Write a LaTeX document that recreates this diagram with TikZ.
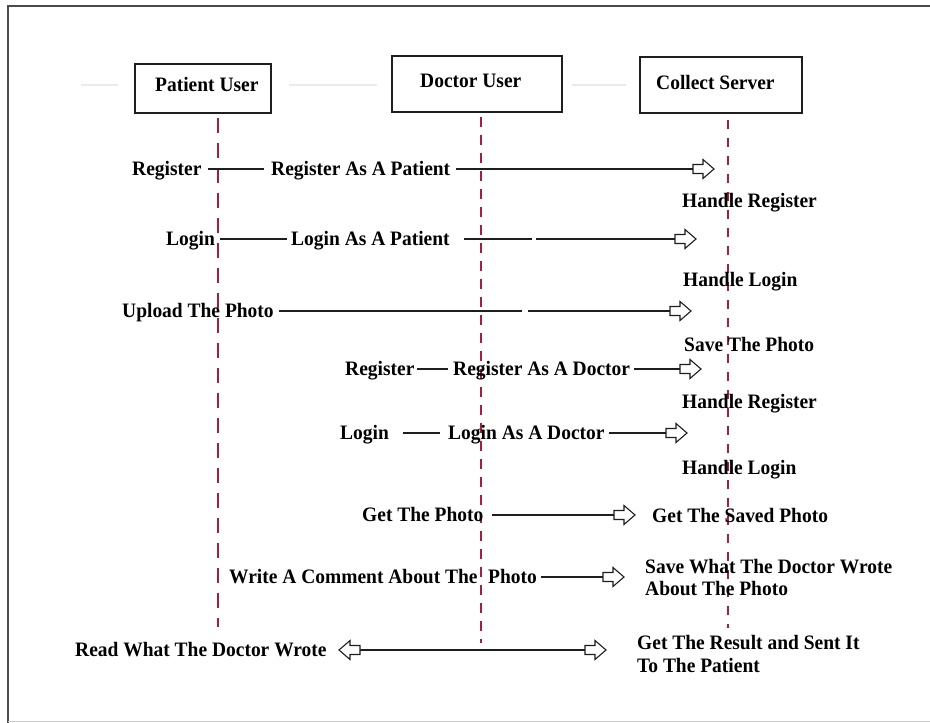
\documentclass[tikz,border=0pt]{standalone}
\usepackage{fontspec}
\setmainfont{Liberation Serif}[FakeStretch=0.95]
\definecolor{lifered}{RGB}{163,31,58}
\definecolor{inkline}{RGB}{30,30,30}
\tikzset{
  lbl/.style={font=\fontsize{20.5}{22}\selectfont\bfseries, inner sep=0pt, anchor=base west, text=black},
  actor/.style={draw=inkline, line width=1.8pt, inner sep=0pt},
  lifeline/.style={draw=lifered, line width=1.8pt},
  msg/.style={draw=inkline, line width=1.3pt},
  blockarrow/.pic={
    \draw[inkline, line width=1.1pt, fill=white, line join=miter]
      (0,-4.5) -- (10,-4.5) -- (10,-9.5) -- (21,0) -- (10,9.5) -- (10,4.5) -- (0,4.5) -- cycle;
  }
}
\begin{document}
\begin{tikzpicture}[x=1pt,y=-1pt]
\useasboundingbox (0,0) rectangle (930,723);
\fill[white] (0,0) rectangle (930,723);

% page frame
\draw[black!70, line width=1.5pt] (8,723) -- (8,6) -- (930,6);
\draw[black!20, line width=1.5pt] (8,721.5) -- (930,721.5);

% faint rules behind the header boxes
\draw[black!8, line width=2pt] (81,85) -- (118,85);
\draw[black!8, line width=2pt] (289,85) -- (377,85);
\draw[black!8, line width=2pt] (572,85) -- (626,85);

% participants
\node[actor, minimum width=136pt, minimum height=49pt] (patient) at (203,88.5) {};
\node[actor, minimum width=170pt, minimum height=56pt] (doctor) at (477,84) {};
\node[actor, minimum width=162pt, minimum height=56pt] (server) at (721,85) {};
\node[lbl] (patientname) at (155,91) {Patient User};
\node[lbl] (doctorname) at (420,87) {Doctor User};
\node[lbl] (servername) at (656,89) {Collect Server};

% lifelines
\coordinate (patientend) at (218,627);
\coordinate (doctorend) at (481,643);
\coordinate (serverend) at (728,628);
\draw[lifeline, dash pattern=on 15pt off 10pt, shorten <=4pt] (patient.south -| patientend) -- (patientend);
\draw[lifeline, dash pattern=on 10pt off 8pt, shorten <=4pt] (doctor.south -| doctorend) -- (doctorend);
\draw[lifeline, dash pattern=on 9pt off 9pt, shorten <=6pt] (server.south -| serverend) -- (serverend);

% patient registers
\node[lbl] (reg1) at (132,175.5) {Register};
\node[lbl] (reg1msg) at (271,175.5) {Register As A Patient};
\coordinate (a1) at (693,169);
\draw[msg, shorten <=6pt, shorten >=7pt] (reg1.east |- a1) -- (reg1msg.west |- a1);
\draw[msg, shorten <=6pt] (reg1msg.east |- a1) -- (a1);
\pic at (a1) {blockarrow};
\node[lbl] (hreg1) at (682,207) {Handle Register};

% patient logs in
\node[lbl] (login1) at (166,245.5) {Login};
\node[lbl] (login1msg) at (291,245.5) {Login As A Patient};
\coordinate (brk2) at (534,239);
\coordinate (a2) at (675,239);
\draw[msg, shorten <=5pt, shorten >=4pt] (login1.east |- a2) -- (login1msg.west |- a2);
\draw[msg, shorten <=14pt, shorten >=2pt] (login1msg.east |- a2) -- (brk2);
\draw[msg, shorten <=2pt] (brk2) -- (a2);
\pic at (a2) {blockarrow};
\node[lbl] (hlog1) at (683,286) {Handle Login};

% patient uploads the photo
\node[lbl] (upload) at (122,317.5) {Upload The Photo};
\coordinate (brk3) at (525,311);
\coordinate (a3) at (670,311);
\draw[msg, shorten <=5pt, shorten >=3pt] (upload.east |- a3) -- (brk3);
\draw[msg, shorten <=3pt] (brk3) -- (a3);
\pic at (a3) {blockarrow};
\node[lbl] (save) at (684,351) {Save The Photo};

% doctor registers
\node[lbl] (reg2) at (345,375.5) {Register};
\node[lbl] (reg2msg) at (453,375.5) {Register As A Doctor};
\coordinate (a4) at (680,369);
\draw[msg, shorten <=2pt, shorten >=5pt] (reg2.east |- a4) -- (reg2msg.west |- a4);
\draw[msg, shorten <=4pt] (reg2msg.east |- a4) -- (a4);
\pic at (a4) {blockarrow};
\node[lbl] (hreg2) at (682,408) {Handle Register};

% doctor logs in
\node[lbl] (login2) at (340,439.5) {Login};
\node[lbl] (login2msg) at (448,439.5) {Login As A Doctor};
\coordinate (a5) at (666,433);
\draw[msg, shorten <=14pt, shorten >=8pt] (login2.east |- a5) -- (login2msg.west |- a5);
\draw[msg, shorten <=4pt] (login2msg.east |- a5) -- (a5);
\pic at (a5) {blockarrow};
\node[lbl] (hlog2) at (682,474) {Handle Login};

% doctor fetches the photo
\node[lbl] (get) at (362,521.5) {Get The Photo};
\coordinate (a6) at (614,515);
\draw[msg, shorten <=8pt] (get.east |- a6) -- (a6);
\pic at (a6) {blockarrow};
\node[lbl] (getsaved) at (652,522) {Get The Saved Photo};

% doctor writes a comment
\node[lbl] (write) at (229,583.5) {Write A Comment About The};
\node[lbl] (writephoto) at (488,583.5) {Photo};
\coordinate (a7) at (603,577);
\draw[msg, shorten <=4pt] (writephoto.east |- a7) -- (a7);
\pic at (a7) {blockarrow};
\node[lbl] (savewrote) at (645,573) {Save What The Doctor Wrote};
\node[lbl] (savewrote2) at (645,595) {About The Photo};

% result goes back to the patient
\node[lbl] (read) at (75,656.5) {Read What The Doctor Wrote};
\coordinate (la8) at (360,650);
\coordinate (a8) at (585,650);
\draw[msg] (la8) -- (a8);
\pic[xscale=-1] at (la8) {blockarrow};
\pic at (a8) {blockarrow};
\node[lbl] (result) at (637,649) {Get The Result and Sent It};
\node[lbl] (result2) at (637,672) {To The Patient};
\end{tikzpicture}
\end{document}
